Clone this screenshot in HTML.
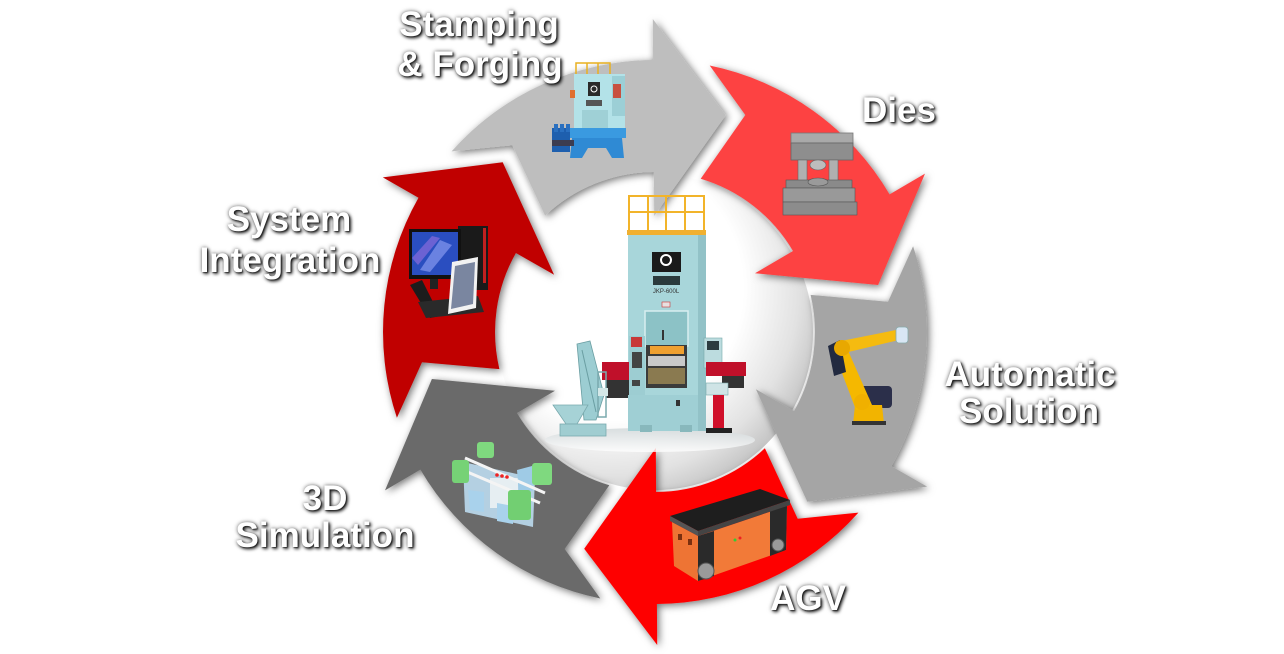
<!DOCTYPE html>
<html><head><meta charset="utf-8">
<style>
html,body{margin:0;padding:0;background:#fff;}
#wrap{position:relative;width:1284px;height:654px;overflow:hidden;background:#fff;}
svg{position:absolute;left:0;top:0;}
.t{position:absolute;font-family:"Liberation Sans",sans-serif;font-weight:bold;font-size:35px;line-height:40px;color:#fff;white-space:nowrap;transform:translateX(-50%);
text-shadow:2px 2px 3px rgba(0,0,0,.75),0 0 4px rgba(0,0,0,.6),1px 1px 1px rgba(0,0,0,.5);}
</style></head>
<body><div id="wrap">
<svg width="1284" height="654" viewBox="0 0 1284 654" xmlns="http://www.w3.org/2000/svg">
<defs>
<filter id="sh" x="-20%" y="-20%" width="140%" height="140%">
<feDropShadow dx="2" dy="2" stdDeviation="4" flood-color="#000" flood-opacity="0.55"/>
</filter>
<radialGradient id="disc" cx="0.36" cy="0.36" r="0.7">
<stop offset="0" stop-color="#fff"/>
<stop offset="0.6" stop-color="#fff"/>
<stop offset="0.85" stop-color="#e2e2e2"/>
<stop offset="1" stop-color="#c4c4c4"/>
</radialGradient>
<linearGradient id="floor" x1="0" y1="0" x2="0" y2="1">
<stop offset="0" stop-color="#cfd6d8"/><stop offset="1" stop-color="#fff"/>
</linearGradient>
</defs>

<circle cx="655" cy="332" r="158" fill="url(#disc)"/>

<g filter="url(#sh)">
<path fill="#bebebe" d="M451.6,151.4 A272,272 0 0 1 653.1,60 L652.8,19 L725.8,115.3 L654.2,216 L653.9,172 A160,160 0 0 0 545.1,215.7 L512.3,145.3 Z"/>
<path fill="#fd4343" d="M709.7,65.5 A272,272 0 0 1 889.6,194.4 L925,173.6 L878.1,285 L755,273.3 L793,251 A160,160 0 0 0 700.7,178.7 L745.3,115 Z"/>
<path fill="#a5a5a5" d="M913.1,246.2 A272,272 0 0 1 891.5,466.3 L927.2,486.6 L807.3,501.7 L755.9,389.3 L794.1,411 A160,160 0 0 0 810.6,294.9 L888,301.7 Z"/>
<path fill="#fe0000" d="M858.4,512.6 A272,272 0 0 1 656.9,604 L657.2,645 L584.2,548.7 L655.8,448 L656.1,492 A160,160 0 0 0 764.9,448.3 L797.7,518.7 Z"/>
<path fill="#6a6a6a" d="M600.3,598.5 A272,272 0 0 1 420.4,469.6 L385,490.4 L431.9,379 L555,390.7 L517,413 A160,160 0 0 0 609.3,485.3 L564.7,549 Z"/>
<path fill="#c00000" d="M396.9,417.8 A272,272 0 0 1 418.5,197.7 L382.8,177.4 L502.7,162.3 L554.1,274.7 L515.9,253 A160,160 0 0 0 499.4,369.1 L422,362.3 Z"/>
</g>

<!-- small stamping press -->
<g>
<g stroke="#e8b020" stroke-width="1.5" fill="none">
<rect x="576" y="63" width="34" height="12"/>
<line x1="587" y1="63" x2="587" y2="75"/><line x1="598" y1="63" x2="598" y2="75"/>
</g>
<rect x="574" y="74" width="51" height="62" fill="#b3e2e8"/>
<rect x="612" y="76" width="13" height="40" fill="#9ccfd6"/>
<rect x="613" y="84" width="8" height="14" fill="#c85040"/>
<rect x="588" y="82" width="12" height="14" fill="#2a2a2a"/>
<circle cx="594" cy="89" r="3" fill="none" stroke="#fff" stroke-width="1"/>
<rect x="586" y="100" width="16" height="6" fill="#555"/>
<rect x="582" y="110" width="26" height="20" fill="#9fd0d6"/>
<rect x="570" y="90" width="5" height="8" fill="#e07030"/>
<rect x="566" y="128" width="60" height="10" fill="#3a9ae0"/>
<polygon points="572,138 622,138 624,158 612,158 606,148 588,148 582,158 570,158" fill="#2f8ad4"/>
<rect x="552" y="128" width="18" height="24" fill="#1e5fae"/>
<rect x="554" y="124" width="4" height="8" fill="#2a70c0"/>
<rect x="560" y="124" width="4" height="8" fill="#2a70c0"/>
<rect x="566" y="124" width="4" height="8" fill="#2a70c0"/>
<rect x="552" y="140" width="22" height="6" fill="#3c3c50"/>
</g>

<!-- dies -->
<g>
<rect x="791" y="133" width="62" height="10" fill="#a9a9a9" stroke="#777" stroke-width="0.8"/>
<rect x="791" y="143" width="62" height="17" fill="#8e8e8e" stroke="#666" stroke-width="0.8"/>
<rect x="798" y="160" width="9" height="22" fill="#b0b0b0" stroke="#666" stroke-width="0.6"/>
<rect x="829" y="160" width="9" height="22" fill="#b0b0b0" stroke="#666" stroke-width="0.6"/>
<ellipse cx="818" cy="165" rx="8" ry="5" fill="#bdbdbd" stroke="#666" stroke-width="0.6"/>
<rect x="786" y="180" width="66" height="8" fill="#8a8a8a" stroke="#555" stroke-width="0.6"/>
<ellipse cx="818" cy="182" rx="10" ry="4" fill="#9a9a9a" stroke="#555" stroke-width="0.6"/>
<rect x="783" y="188" width="72" height="14" fill="#999" stroke="#555" stroke-width="0.6"/>
<rect x="783" y="202" width="74" height="13" fill="#8c8c8c" stroke="#555" stroke-width="0.6"/>
</g>

<!-- robot arm -->
<g>
<rect x="858" y="386" width="34" height="22" rx="4" fill="#2b2f4a"/>
<polygon points="855,405 882,405 884,424 853,424" fill="#f2b400"/>
<rect x="852" y="421" width="34" height="4" fill="#333"/>
<polygon points="834,352 846,346 872,405 856,410" fill="#f5b800"/>
<polygon points="828,346 840,340 846,372 834,376" fill="#222a40"/>
<polygon points="836,342 896,330 899,340 840,354" fill="#f5bb10"/>
<circle cx="842" cy="348" r="8" fill="#e8a800"/>
<circle cx="862" cy="402" r="8" fill="#f0b000"/>
<rect x="896" y="327" width="12" height="16" rx="3" fill="#d8e6f4" stroke="#8aa" stroke-width="0.8"/>
</g>

<!-- AGV -->
<g>
<polygon points="672,522 698,536 698,581 674,566" fill="#ee7434"/>
<polygon points="698,536 787,506 786,550 698,581" fill="#f27a38"/>
<polygon points="698,536 714,531 714,576 698,581" fill="#2a2a2a"/>
<polygon points="770,511 787,506 786,550 770,556" fill="#2a2a2a"/>
<polygon points="670,516 698,531 790,500 760,489" fill="#1e1e1e"/>
<polygon points="670,516 698,531 698,536 670,521" fill="#555"/>
<polygon points="698,531 790,500 790,505 698,536" fill="#444"/>
<circle cx="706" cy="571" r="8" fill="#9a9a9a" stroke="#555" stroke-width="1"/>
<circle cx="778" cy="545" r="6" fill="#9a9a9a" stroke="#555" stroke-width="1"/>
<rect x="678" y="534" width="4" height="6" fill="#7a3010"/>
<rect x="688" y="539" width="4" height="6" fill="#7a3010"/>
<circle cx="735" cy="540" r="1.5" fill="#3c3"/>
<circle cx="740" cy="538" r="1.5" fill="#e22"/>
</g>

<!-- 3D simulation -->
<g>
<polygon points="463,462 535,478 533,527 465,512" fill="#bcdcef" opacity="0.9"/>
<rect x="490" y="478" width="28" height="30" fill="#e6eef2"/>
<polygon points="468,490 484,492 484,512 470,510" fill="#a9d2ec"/>
<polygon points="497,503 513,506 513,524 497,521" fill="#a9d2ec"/>
<polygon points="517,470 532,466 534,490 519,494" fill="#9fcbe6"/>
<line x1="465" y1="458" x2="545" y2="493" stroke="#f4f4f4" stroke-width="3"/>
<line x1="458" y1="468" x2="540" y2="503" stroke="#f4f4f4" stroke-width="3"/>
<rect x="477" y="442" width="17" height="16" rx="3" fill="#7fd97f"/>
<rect x="452" y="460" width="17" height="23" rx="3" fill="#76d276"/>
<rect x="532" y="463" width="20" height="22" rx="3" fill="#7fd97f"/>
<rect x="508" y="490" width="23" height="30" rx="3" fill="#72cf72"/>
<circle cx="497" cy="475" r="1.8" fill="#e22"/><circle cx="502" cy="476" r="1.8" fill="#e22"/><circle cx="507" cy="477" r="1.8" fill="#e22"/>
</g>

<!-- system integration computer -->
<g>
<rect x="458" y="226" width="30" height="64" fill="#1a1a1a"/>
<rect x="483" y="228" width="3" height="55" fill="#c02020"/>
<rect x="409" y="229" width="52" height="50" fill="#111"/>
<rect x="412" y="232" width="46" height="43" fill="#2a4ec0"/>
<polygon points="420,270 440,240 452,245 430,272" fill="#7a90e8" opacity="0.8"/>
<polygon points="412,258 432,236 440,238 418,265" fill="#9a70e0" opacity="0.6"/>
<rect x="430" y="279" width="8" height="10" fill="#222"/>
<polygon points="410,285 422,280 440,316 430,318" fill="#1c1c1c"/>
<polygon points="418,302 478,296 484,312 426,318" fill="#2a2a2a"/>
<polygon points="452,262 478,257 476,308 448,314" fill="#f2f2f2"/>
<polygon points="455,266 475,262 473,304 451,309" fill="#7a86a0"/>
</g>

<!-- center press -->
<g>
<ellipse cx="650" cy="440" rx="105" ry="12" fill="url(#floor)" opacity="0.8"/>
<g stroke="#f2b42a" stroke-width="2" fill="none">
<rect x="629" y="196" width="75" height="35"/>
<line x1="629" y1="212" x2="704" y2="212"/>
<line x1="648" y1="196" x2="648" y2="231"/><line x1="666" y1="196" x2="666" y2="231"/><line x1="685" y1="196" x2="685" y2="231"/>
</g>
<rect x="627" y="230" width="79" height="5" fill="#f0b030"/>
<rect x="628" y="235" width="78" height="196" fill="#a8d6da"/>
<rect x="698" y="235" width="8" height="196" fill="#92c2c7"/>
<rect x="652" y="252" width="29" height="20" fill="#1a1a1a"/>
<circle cx="666" cy="260" r="5" fill="none" stroke="#fff" stroke-width="2"/>
<rect x="653" y="276" width="27" height="9" fill="#2a3a3c"/>
<text x="666" y="293" font-family="Liberation Sans, sans-serif" font-size="6" text-anchor="middle" fill="#333">JKP-600L</text>
<rect x="662" y="302" width="8" height="5" fill="#e8e0e0" stroke="#c33" stroke-width="0.6"/>
<rect x="645" y="311" width="43" height="35" fill="#8cc2c6" stroke="#d8eef0" stroke-width="1.5"/>
<rect x="662" y="330" width="2" height="10" fill="#333"/>
<rect x="646" y="345" width="41" height="43" fill="#3b3b3b"/>
<rect x="650" y="346" width="34" height="8" fill="#f0a030"/>
<rect x="648" y="356" width="37" height="10" fill="#c9c9c9"/>
<rect x="648" y="368" width="37" height="16" fill="#8a7a50"/>
<rect x="629" y="336" width="16" height="60" fill="#9dcdd2"/>
<rect x="631" y="337" width="11" height="10" fill="#c83838"/>
<rect x="632" y="352" width="10" height="16" fill="#444"/>
<rect x="632" y="380" width="8" height="6" fill="#444"/>
<rect x="704" y="338" width="18" height="30" fill="#bcdcdf" stroke="#7aa" stroke-width="0.6"/>
<rect x="707" y="341" width="12" height="9" fill="#2c3c40"/>
<rect x="602" y="362" width="27" height="18" fill="#c0102a"/>
<rect x="606" y="380" width="23" height="18" fill="#333"/>
<rect x="706" y="362" width="40" height="14" fill="#c0102a"/>
<rect x="722" y="376" width="22" height="12" fill="#333"/>
<rect x="706" y="383" width="22" height="12" fill="#cfe4e6" stroke="#7aa" stroke-width="0.6"/>
<rect x="713" y="395" width="11" height="35" fill="#d0102a"/>
<rect x="706" y="428" width="26" height="5" fill="#222"/>
<rect x="628" y="395" width="70" height="36" fill="#9fcfd4"/>
<rect x="640" y="425" width="12" height="7" fill="#88b8bc"/>
<rect x="680" y="425" width="12" height="7" fill="#88b8bc"/>
<rect x="676" y="400" width="4" height="6" fill="#333"/>
<polygon points="577,344 590,341 604,395 596,420 584,420" fill="#9ccdd2" stroke="#6a9ea2" stroke-width="0.8"/>
<line x1="582" y1="350" x2="596" y2="412" stroke="#6a9ea2" stroke-width="1"/>
<polygon points="553,405 588,405 577,424 566,424" fill="#a6d2d6" stroke="#7aaaae" stroke-width="0.8"/>
<rect x="598" y="372" width="8" height="45" fill="none" stroke="#7aaaae" stroke-width="1.5"/>
<rect x="560" y="424" width="46" height="12" fill="#a0cdd1" stroke="#7aaaae" stroke-width="0.8"/>
<rect x="598" y="388" width="10" height="8" fill="#d4e8e8"/>
</g>
</svg>

<div class="t" style="left:479px;top:5px;">Stamping</div>
<div class="t" style="left:480px;top:45px;">&amp; Forging</div>
<div class="t" style="left:899px;top:91px;">Dies</div>
<div class="t" style="left:289px;top:200px;">System</div>
<div class="t" style="left:290px;top:241px;">Integration</div>
<div class="t" style="left:1030px;top:355px;">Automatic</div>
<div class="t" style="left:1029px;top:392px;">Solution</div>
<div class="t" style="left:325px;top:479px;">3D</div>
<div class="t" style="left:325px;top:516px;">Simulation</div>
<div class="t" style="left:808px;top:579px;">AGV</div>
</div></body></html>
